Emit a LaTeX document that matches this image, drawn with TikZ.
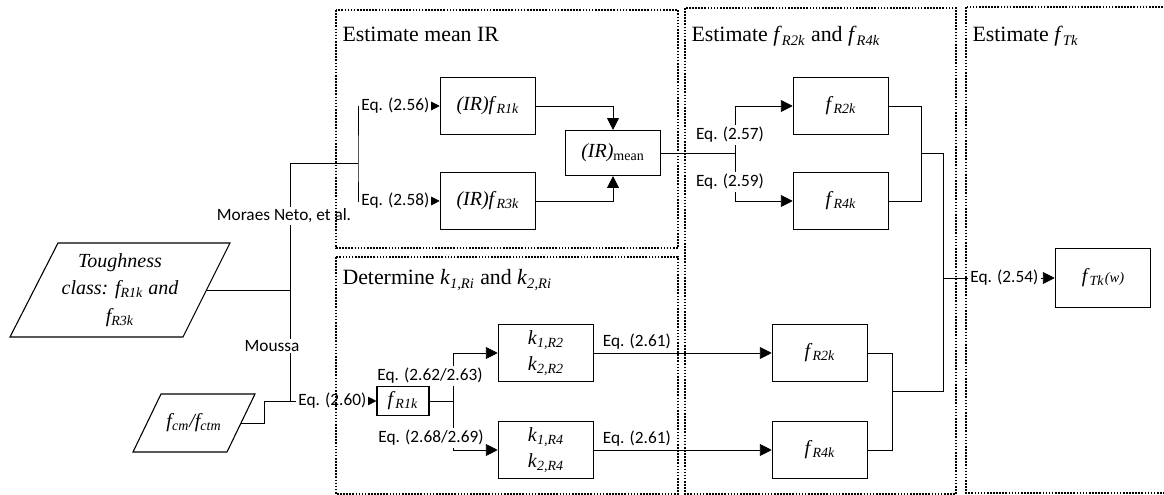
\documentclass[tikz,border=0pt]{standalone}
\usepackage{fontspec}
\setmainfont{Liberation Serif}
\newfontfamily\eqfont{Carlito}
\usetikzlibrary{arrows.meta,backgrounds}
\newcommand{\fs}[2]{\textit{#1}\textsubscript{\textit{#2}}}

\tikzset{
  box/.style={draw, minimum width=52.5pt, minimum height=31pt, inner sep=1pt, font=\fontsize{11}{14}\selectfont},
  eq/.style={font=\eqfont\fontsize{9.5}{11}\selectfont, inner sep=1pt, fill=white},
  frame/.style={line width=0.9pt, dash pattern=on 0.9pt off 0.8pt},
  title/.style={anchor=base west, inner sep=0pt, font=\fontsize{12}{14}\selectfont},
  intext/.style={font=\itshape\fontsize{11}{15}\selectfont, align=center, inner sep=1pt},
  arr/.style={-{Triangle[length=6.5pt,width=6.5pt]}},
}

\begin{document}
\begin{tikzpicture}[x=0.55pt, y=-0.55pt, line width=0.6pt]
\useasboundingbox (0,0) rectangle (1164,495);

% inputs (parallelograms)
\draw (58,243) -- (230,243) -- (183,337) -- (10,337) -- cycle;
\node[intext] (tough) at (120,290) {Toughness\\class: \fs{f}{R1k} and\\\fs{f}{R3k}};
\coordinate (toughR) at (206.5,290);
\draw (161,394) -- (255,394) -- (227,452) -- (133,452) -- cycle;
\node[intext] (fcm) at (194,423) {\fs{f}{cm}/\fs{f}{ctm}};
\coordinate (fcmR) at (241,423);

% junction points
\coordinate (jT) at (290,163);
\coordinate (jB) at (290,401);
\coordinate (kF) at (264,401);
\coordinate (sIR) at (358,163);
\coordinate (sA) at (735,153);
\coordinate (mA) at (921,153);
\coordinate (cA) at (943,153);
\coordinate (jR) at (943,278);
\coordinate (mB) at (892,391);
\coordinate (cB) at (943,391);
\coordinate (sK) at (453,401);

% boxes
\node[box] (IR1) at (488,106) {\textit{(IR)}\fs{f}{R1k}};
\node[box] (IR3) at (488,201) {\textit{(IR)}\fs{f}{R3k}};
\node[box, minimum height=24.75pt] (IRm) at (613,153) {\textit{(IR)}\textsubscript{mean}};
\node[box] (A2) at (841,106) {\fs{f}{R2k}};
\node[box] (A4) at (841,201) {\fs{f}{R4k}};
\node[box, align=center] (k2) at (546,353) {\fs{k}{1,R2}\\\fs{k}{2,R2}};
\node[box, align=center] (k4) at (546,450) {\fs{k}{1,R4}\\\fs{k}{2,R4}};
\node[box] (B2) at (820,353) {\fs{f}{R2k}};
\node[box] (B4) at (820,450) {\fs{f}{R4k}};
\node[box, minimum width=28.6pt, minimum height=16pt] (fR1) at (403,401) {\fs{f}{R1k}};
\node[box, minimum height=32pt] (fT) at (1103,278) {\fs{f}{Tk}\textit{\footnotesize(w)}};

% labels on the lines
\node[eq, anchor=west] (e56) at (359,106) {Eq. (2.56)};
\node[eq, anchor=west] (e58) at (359,201) {Eq. (2.58)};
\node[eq] (e57) at (730,135) {Eq. (2.57)};
\node[eq] (e59) at (730,182) {Eq. (2.59)};
\node[eq, anchor=west] (e54) at (968,278) {Eq. (2.54)};
\node[eq, anchor=west] (e60) at (296,401) {Eq. (2.60)};
\node[eq] (e62) at (430,376) {Eq. (2.62/2.63)};
\node[eq] (e68) at (431,438) {Eq. (2.68/2.69)};
\node[eq] (moraes) at (284,216) {Moraes Neto, et al.};
\node[eq] (moussa) at (272,346) {Moussa};

\begin{scope}[on background layer]
\draw (toughR) -- (jT |- toughR);
\draw (sIR) -- (jT) -- (jB) -- (e60.west);
\draw (fcmR) -| (kF) -- (jB);
\draw (e56.west) -| (sIR) |- (e58.west);
\draw[arr] (e56) -- (IR1);
\draw[arr] (e58) -- (IR3);
\draw[arr] (IR1) -| (IRm);
\draw[arr] (IR3) -| (IRm);
\draw (IRm) -- (sA);
\draw[arr] (sA) |- (A2);
\draw[arr] (sA) |- (A4);
\draw (A2) -| (mA) |- (A4);
\draw (mA) -- (cA) -- (jR) -- (e54);
\draw[arr] (e54) -- (fT);
\draw[arr] (e60) -- (fR1);
\draw (fR1) -- (sK);
\draw[arr] (sK) |- (k2);
\draw[arr] (sK) |- (k4);
\draw[arr] (k2) -- node[eq, pos=0.24, above=1pt] (e61a) {Eq. (2.61)} (B2);
\draw[arr] (k4) -- node[eq, pos=0.24, above=1pt] (e61b) {Eq. (2.61)} (B4);
\draw (B2) -| (mB) |- (B4);
\draw (mB) -- (cB) -- (jR);
\end{scope}

% dotted frames
\draw[frame] (336,10) rectangle (678,248);
\draw[frame] (336,257) rectangle (678,494);
\draw[frame] (685,8) rectangle (956,494);
\draw[frame] (966,7) rectangle (1175,493);

\node[title] (tA) at (342,42) {Estimate mean IR};
\node[title] (tB) at (342,285) {Determine \fs{k}{1,Ri} and \fs{k}{2,Ri}};
\node[title] (tC) at (691,42) {Estimate \fs{f}{R2k} and \fs{f}{R4k}};
\node[title] (tD) at (972,42) {Estimate \fs{f}{Tk}};
\end{tikzpicture}
\end{document}
